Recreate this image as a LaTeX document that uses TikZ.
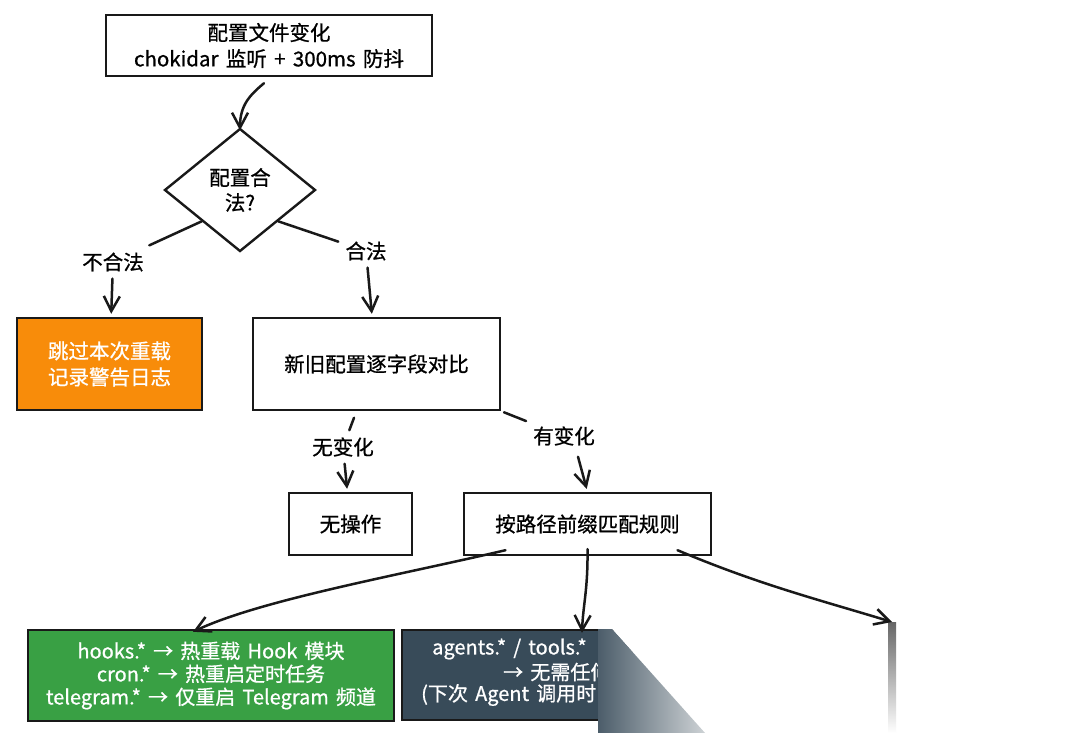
\documentclass[tikz,border=0pt]{standalone}
\usepackage{fontspec}
\setmainfont{Noto Sans CJK SC}[FakeBold=0.8,WordSpace=1.6]
\usetikzlibrary{shapes.geometric,arrows.meta}
\definecolor{orangeF}{HTML}{F88C0A}
\definecolor{greenF}{HTML}{39A044}
\definecolor{darkF}{HTML}{384B59}
\begin{document}
\begin{tikzpicture}[x=1pt,y=-1pt,
  every node/.style={font=\fontsize{20.5}{26}\selectfont},
  box/.style={draw=black!90,line width=2.4pt,align=center,inner sep=0pt},
  lbl/.style={inner sep=7pt},
  conn/.style={line width=2.5pt,line cap=round,draw=black!90},
  arr/.style={conn,-{Straight Barb[length=15pt,width=16pt,line width=2.5pt]}}]
\useasboundingbox (0,0) rectangle (1080,733);
\fill[white] (0,0) rectangle (1080,733);

% nodes
\node[box,minimum width=326pt,minimum height=61pt] (cfg) at (269,45.5)
  {配置文件变化\\chokidar 监听 + 300ms 防抖};
\node[diamond,draw=black!90,line width=2.4pt,minimum width=151pt,minimum height=123pt,
  inner sep=0pt,align=center,font=\fontsize{20.5}{25}\selectfont] (val) at (240,190) {配置合\\法?};
\node[box,fill=orangeF,text=white,minimum width=185pt,minimum height=92pt] (skip) at (109.5,364)
  {跳过本次重载\\记录警告日志};
\node[box,minimum width=247pt,minimum height=92pt] (cmp) at (376.5,364) {新旧配置逐字段对比};
\node[box,minimum width=123pt,minimum height=62pt] (noop) at (350.5,524) {无操作};
\node[box,minimum width=247pt,minimum height=62pt] (match) at (587.5,524) {按路径前缀匹配规则};
\node[box,fill=greenF,text=white,minimum width=366pt,minimum height=91pt,
  font=\fontsize{20}{23}\selectfont] (green) at (211,675.5)
  {hooks.* → 热重载 Hook 模块\\cron.* → 热重启定时任务\\telegram.* → 仅重启 Telegram 频道};

% dark (cut off) box
\node[box,fill=darkF,minimum width=230pt,minimum height=90pt] (dark) at (517,675) {};
\begin{scope}
  \clip (402,630) rectangle (600,720);
  \node[anchor=west,text=white,inner sep=0pt,font=\fontsize{20}{23}\selectfont] (d1) at (432,649) {agents.* / tools.*};
  \node[anchor=west,text=white,inner sep=0pt,font=\fontsize{20}{23}\selectfont] (d2) at (503,672) {→ 无需任何};
  \node[anchor=west,text=white,inner sep=0pt,font=\fontsize{20}{23}\selectfont] (d3) at (421,695) {(下次 Agent 调用时};
\end{scope}
\fill[white] (599,625) -- (1080,625) -- (1080,733) -- (705,733) -- (612,629) -- (599,629) -- cycle;
\shade[left color=darkF!90!white,right color=darkF!25!white] (598,629) -- (612,629) -- (705,733) -- (598,733) -- cycle;
\fill[white] (401,722) rectangle (598,733);
\shade[top color=black!60,bottom color=white] (888,622) rectangle (896,733);

% labels
\node[lbl] (lno) at (113,262) {不合法};
\node[lbl] (lok) at (366,251) {合法};
\node[lbl] (lsame) at (343,447) {无变化};
\node[lbl] (ldiff) at (564,436) {有变化};
\coordinate (hid) at (892,622);

% connectors
\draw[arr] ([xshift=-5pt]cfg.south) ++(0,6) .. controls (250,95) and (240,105) .. ([yshift=-3pt]val.north);
\draw[conn] (val.south west) -- (lno);
\draw[arr,shorten >=3pt] (lno) -- (skip);
\draw[conn] (val.south east) -- (lok);
\draw[arr,shorten >=3pt] (lok) -- (cmp);
\draw[conn,shorten <=7pt] ([xshift=-20pt]cmp.south) -- (lsame);
\draw[arr,shorten >=3pt] (lsame) -- (noop);
\draw[conn,shorten <=3pt] (cmp.south east) -- (ldiff);
\draw[arr,shorten >=3pt] (ldiff.south) ++(14,4) -- ([xshift=0pt]match.north);
\draw[arr] ([xshift=-82pt,yshift=6pt]match.south) .. controls (400,575) and (260,600) .. ([xshift=-18pt,yshift=-3pt]green.north);
\draw[arr] ([yshift=7pt]match.south) .. controls (588,590) and (583,605) .. ([xshift=65pt,yshift=-4pt]dark.north);
\draw[arr] ([xshift=90pt,yshift=6pt]match.south) .. controls (760,585) and (820,600) .. (hid);
\end{tikzpicture}
\end{document}
